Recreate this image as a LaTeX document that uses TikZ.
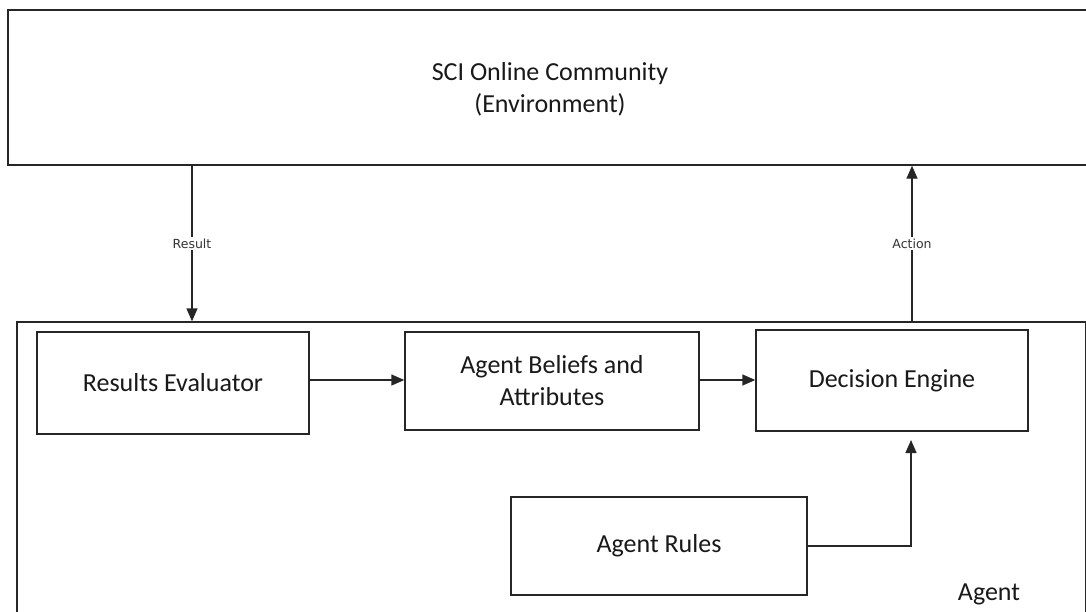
\documentclass[tikz,border=0pt]{standalone}
\usepackage{fontspec}
\setmainfont{Carlito}
\newfontfamily\labelfont{DejaVu Sans}
\usetikzlibrary{arrows.meta}
\begin{document}
\begin{tikzpicture}[x=1pt,y=-1pt,
  box/.style={draw=black!85,line width=1.4pt,rectangle,inner sep=0pt,align=center,
    font=\fontsize{26}{32}\selectfont,text=black!90},
  conn/.style={draw=black!85,line width=1.4pt,-{Triangle[length=13pt,width=11pt]}},
  flowlabel/.style={fill=white,inner sep=2pt,font=\labelfont\fontsize{12.5}{15}\selectfont,text=black!80}]
\useasboundingbox (0,0) rectangle (1086,611);
\clip (0,0) rectangle (1086,611);
\fill[white] (0,0) rectangle (1086,611);
% environment (right side runs off the picture)
\node[box,minimum width=1092pt,minimum height=155pt] (env) at (554,87.5) {};
\node[font=\fontsize{26}{32}\selectfont,align=center,text=black!90] (envtext) at (550,89) {SCI Online Community\\(Environment)};
% agent container (bottom runs off the picture)
\node[box,minimum width=1068.5pt,minimum height=303pt] (agent) at (551.25,473.5) {};
\node[font=\fontsize{26}{32}\selectfont,text=black!90] (agentlabel) at (989,594) {Agent};
% inner boxes
\node[box,minimum width=272pt,minimum height=102pt] (re) at (173,383) {Results Evaluator};
\node[box,minimum width=294pt,minimum height=98pt] (ab) at (552,381) {Agent Beliefs and\\Attributes};
\node[box,minimum width=272pt,minimum height=101pt] (de) at (892,380.5) {Decision Engine};
\node[box,minimum width=296pt,minimum height=98pt] (ar) at (659,546) {Agent Rules};
% connectors
\draw[conn] (re.east |- 0,380) -- (ab.west |- 0,380);
\draw[conn] (ab.east |- 0,380) -- (de.west |- 0,380);
\draw[conn] (env.south -| 192,0) -- node[flowlabel] (reslabel) {Result} (agent.north -| 192,0);
\draw[conn] (agent.north -| 912,0) -- node[flowlabel] (actlabel) {Action} (env.south -| 912,0);
\coordinate (deentry) at (911,440);
\draw[conn] (ar.east) -| (deentry);
\end{tikzpicture}
\end{document}
